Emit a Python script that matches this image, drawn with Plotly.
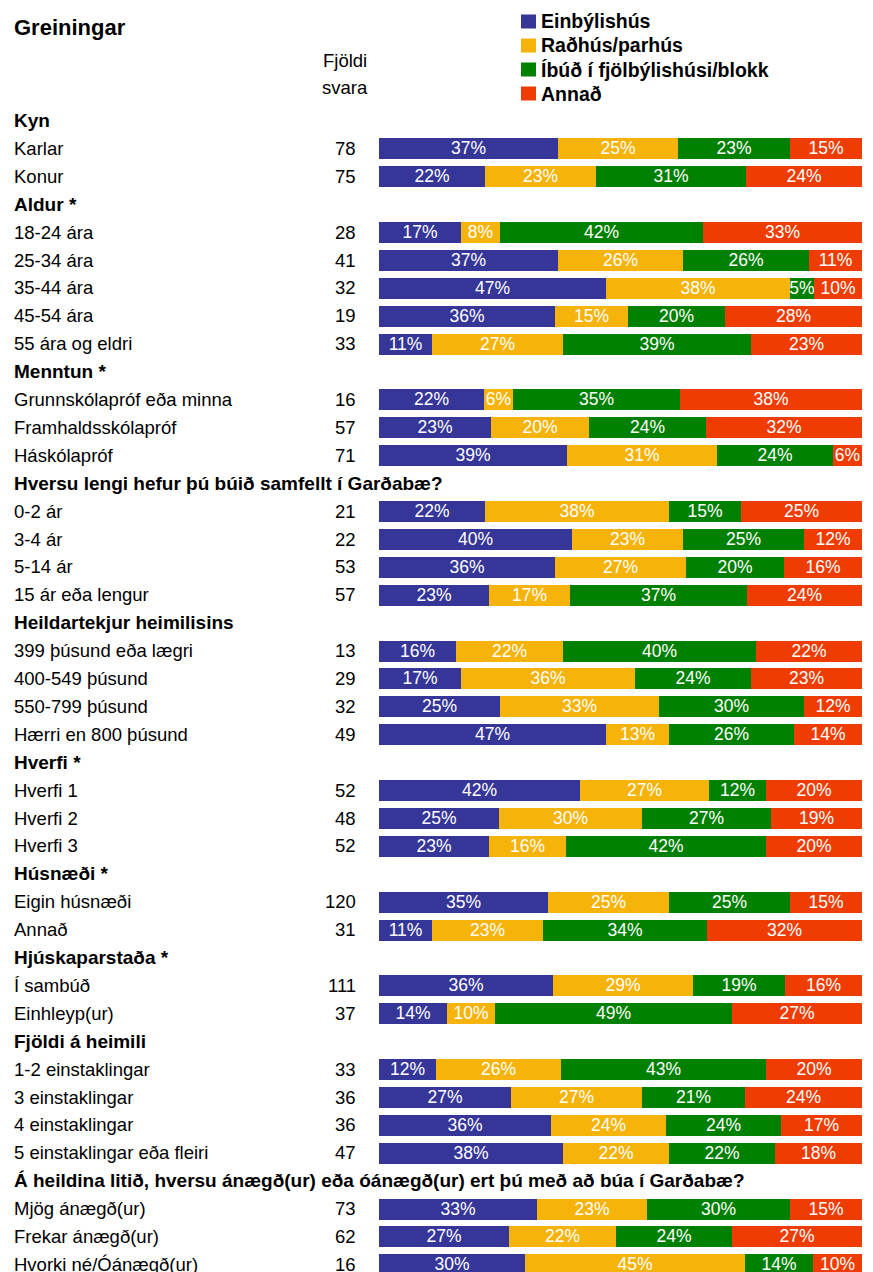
import plotly.graph_objects as go

# ---------------- data ----------------
group_titles = [
    "Kyn", "Aldur *", "Menntun *", "Hversu lengi hefur þú búið samfellt í Garðabæ?",
    "Heildartekjur heimilisins", "Hverfi *", "Húsnæði *", "Hjúskaparstaða *",
    "Fjöldi á heimili",
    "Á heildina litið, hversu ánægð(ur) eða óánægð(ur) ert þú með að búa í Garðabæ?",
]
group_sizes = [2, 5, 3, 4, 4, 3, 2, 2, 4, 3]

categories = [
    "Karlar", "Konur",
    "18-24 ára", "25-34 ára", "35-44 ára", "45-54 ára", "55 ára og eldri",
    "Grunnskólapróf eða minna", "Framhaldsskólapróf", "Háskólapróf",
    "0-2 ár", "3-4 ár", "5-14 ár", "15 ár eða lengur",
    "399 þúsund eða lægri", "400-549 þúsund", "550-799 þúsund", "Hærri en 800 þúsund",
    "Hverfi 1", "Hverfi 2", "Hverfi 3",
    "Eigin húsnæði", "Annað",
    "Í sambúð", "Einhleyp(ur)",
    "1-2 einstaklingar", "3 einstaklingar", "4 einstaklingar", "5 einstaklingar eða fleiri",
    "Mjög ánægð(ur)", "Frekar ánægð(ur)", "Hvorki né/Óánægð(ur)",
]
counts = [78, 75, 28, 41, 32, 19, 33, 16, 57, 71, 21, 22, 53, 57, 13, 29, 32, 49,
          52, 48, 52, 120, 31, 111, 37, 33, 36, 36, 47, 73, 62, 16]

series_names = ["Einbýlishús", "Raðhús/parhús", "Íbúð í fjölbýlishúsi/blokk", "Annað"]
einbyli = [37, 22, 17, 37, 47, 36, 11, 22, 23, 39, 22, 40, 36, 23, 16, 17, 25, 47,
           42, 25, 23, 35, 11, 36, 14, 12, 27, 36, 38, 33, 27, 30]
radhus = [25, 23, 8, 26, 38, 15, 27, 6, 20, 31, 38, 23, 27, 17, 22, 36, 33, 13,
          27, 30, 16, 25, 23, 29, 10, 26, 27, 24, 22, 23, 22, 45]
ibud = [23, 31, 42, 26, 5, 20, 39, 35, 24, 24, 15, 25, 20, 37, 40, 24, 30, 26,
        12, 27, 42, 25, 34, 19, 49, 43, 21, 24, 22, 30, 24, 14]
annad = [15, 24, 33, 11, 10, 28, 23, 38, 32, 6, 25, 12, 16, 24, 22, 23, 12, 14,
         20, 19, 20, 15, 32, 16, 27, 20, 24, 17, 18, 15, 27, 10]

colors = ["#363699", "#F6B309", "#008000", "#EF3C02"]

# ---------------- layout helpers ----------------
W, H = 873, 1272
FONT = "Liberation Sans, Arial, Helvetica, sans-serif"
PITCH = 27.9
TOP = 106.55  # pixel of row -0.5

header_rows, item_rows = [], []
r = 0
for size in group_sizes:
    header_rows.append(r)
    r += 1
    for _ in range(size):
        item_rows.append(r)
        r += 1
bottom_row = (H - TOP) / PITCH - 0.5

def py(px):
    return 1 - px / H

fig = go.Figure()
for name, vals, col in zip(series_names, [einbyli, radhus, ibud, annad], colors):
    fig.add_trace(go.Bar(
        x=vals, y=item_rows, orientation="h", name=name, width=0.75,
        marker=dict(color=col, line=dict(width=0)),
        text=vals, texttemplate="%{text}%", textposition="inside",
        insidetextanchor="middle", textangle=0, constraintext="none",
        textfont=dict(family=FONT, size=17.5, color="white"),
        hoverinfo="skip", showlegend=False,
    ))

ann = []
# group headers
for row, title in zip(header_rows, group_titles):
    ann.append(dict(text=f"<b>{title}</b>", x=12 / W, xref="paper", xanchor="left",
                    y=row, yref="y", yanchor="middle", showarrow=False,
                    font=dict(family=FONT, size=19, color="black")))
# items and counts
for row, cat, n in zip(item_rows, categories, counts):
    ann.append(dict(text=cat, x=12 / W, xref="paper", xanchor="left",
                    y=row, yref="y", yanchor="middle", showarrow=False,
                    font=dict(family=FONT, size=18.5, color="black")))
    ann.append(dict(text=str(n), x=358 / W, xref="paper", xanchor="right",
                    y=row, yref="y", yanchor="middle", showarrow=False,
                    font=dict(family=FONT, size=18.5, color="black")))
# title and column header
ann.append(dict(text="<b>Greiningar</b>", x=12 / W, xref="paper", xanchor="left",
                y=py(28), yref="paper", yanchor="middle", showarrow=False,
                font=dict(family=FONT, size=22, color="black")))
ann.append(dict(text="Fjöldi", x=344.5 / W, xref="paper", xanchor="center",
                y=py(61), yref="paper", yanchor="middle", showarrow=False,
                font=dict(family=FONT, size=18.5, color="black")))
ann.append(dict(text="svara", x=344.5 / W, xref="paper", xanchor="center",
                y=py(88), yref="paper", yanchor="middle", showarrow=False,
                font=dict(family=FONT, size=18.5, color="black")))

# custom legend
shapes = []
leg_y = [21.5, 45.5, 69.5, 93.5]
for name, col, cy in zip(series_names, colors, leg_y):
    shapes.append(dict(type="rect", xref="paper", yref="paper",
                       x0=521 / W, x1=536 / W, y0=py(cy + 7), y1=py(cy - 7),
                       fillcolor=col, line=dict(width=0)))
    ann.append(dict(text=f"<b>{name}</b>", x=539 / W, xref="paper", xanchor="left",
                    y=py(cy), yref="paper", yanchor="middle", showarrow=False,
                    font=dict(family=FONT, size=19.5, color="black")))

fig.update_layout(
    width=W, height=H, barmode="stack", barnorm="percent", bargap=0,
    margin=dict(l=0, r=0, t=0, b=0),
    paper_bgcolor="white", plot_bgcolor="white",
    xaxis=dict(range=[0, 100], domain=[379 / W, 862 / W], visible=False, fixedrange=True),
    yaxis=dict(range=[bottom_row, -0.5], domain=[0, 1 - TOP / H], visible=False, fixedrange=True),
    annotations=ann, shapes=shapes, showlegend=False,
)

fig.write_html("out.html", config={"displayModeBar": False},
               post_script="document.body.style.margin='0px';")
